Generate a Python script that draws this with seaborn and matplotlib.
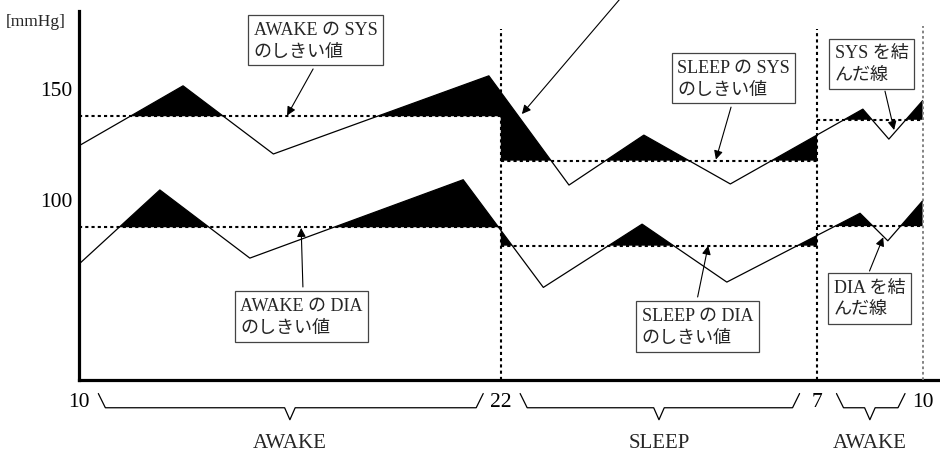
import numpy as np
import pandas as pd
import matplotlib
matplotlib.use("Agg")
import matplotlib.pyplot as plt
import seaborn as sns

# ---------------- data ----------------
sys_hours = [10, 12.96, 15.53, 21.66, 23.94, 26.07, 28.53, 32.30, 33.04, 34.0]
sys_values = [124.0, 151.0, 120.3, 155.5, 106.3, 128.8, 106.8, 140.5, 127.0, 144.3]
dia_hours = [10, 12.30, 14.86, 20.93, 23.21, 26.02, 28.43, 32.22, 33.01, 34.0]
dia_values = [70.7, 104.1, 73.4, 108.7, 60.2, 88.7, 62.6, 93.6, 81.2, 99.2]

period_edges = [10, 22, 31, 34]
period_names = ["AWAKE", "SLEEP", "AWAKE"]
sys_thresholds = [137.3, 117.3, 135.7]
dia_thresholds = [87.3, 79.0, 87.8]
x_tick_labels = ["10", "22", "7", "10"]
y_ticks = [100, 150]

# ---------------- style ----------------
sns.set_style("white")
plt.rcParams["font.family"] = ["Liberation Serif", "Noto Sans CJK JP"]

fig = plt.figure(figsize=(9.4, 4.56), dpi=100)
ax = fig.add_axes([79 / 940, 1 - 381 / 456, 1 - 79 / 940, (381 - 12) / 456])
XMIN, XMAX = 10, 10 + 861 / 35.15
YMIN, YMAX = 18.5, 184.7

df_sys = pd.DataFrame({"hour": sys_hours, "value": sys_values})
df_dia = pd.DataFrame({"hour": dia_hours, "value": dia_values})

# fills above thresholds
tt = np.linspace(10, 34, 9601)
idx = np.clip(np.searchsorted(period_edges, tt, side="right") - 1, 0, len(period_names) - 1)
for hours, vals, thr in [(sys_hours, sys_values, sys_thresholds), (dia_hours, dia_values, dia_thresholds)]:
    line = np.interp(tt, hours, vals)
    th = np.asarray(thr)[idx]
    ax.fill_between(tt, th, line, where=line > th, interpolate=True,
                    color="black", linewidth=0, zorder=2)

# lines
for d in (df_sys, df_dia):
    sns.lineplot(data=d, x="hour", y="value", ax=ax, color="black", linewidth=0.9,
                 sort=False, zorder=3, solid_joinstyle="round")

# threshold dotted lines
dot = (0, (1.5, 1.5))
for i in range(len(period_names)):
    for thr in (sys_thresholds, dia_thresholds):
        ax.hlines(thr[i], period_edges[i], period_edges[i + 1], colors="black",
                  linestyles=dot, linewidth=1.5, zorder=4)

# period separators
for e in period_edges[1:-1]:
    ax.vlines(e, YMIN, 176.6, colors="black", linestyles=dot, linewidth=1.5, zorder=4)
ax.vlines(period_edges[-1], YMIN, 178.0, colors="#7a7a7a", linestyles=dot,
          linewidth=1.3, zorder=4)

# axes
ax.set_xlim(XMIN, XMAX)
ax.set_ylim(YMIN, YMAX)
ax.set_xlabel("")
ax.set_ylabel("")
for s in ("top", "right"):
    ax.spines[s].set_visible(False)
for s in ("left", "bottom"):
    ax.spines[s].set_linewidth(2.3)
    ax.spines[s].set_color("black")
ax.set_yticks(y_ticks)
ax.set_yticklabels([str(v) for v in y_ticks], fontsize=15.5)
ax.tick_params(axis="y", direction="in", length=9.5, width=2.2, pad=5, colors="black")
ax.set_xticks(period_edges)
ax.set_xticklabels(x_tick_labels, fontsize=15.5)
ax.tick_params(axis="x", length=0, pad=9, colors="black")
ax.set_facecolor("white")

fig.text(36 / 940, 1 - 22 / 456, "[mmHg]", fontsize=12.5, ha="center", va="center")

# braces and period names
for i, name in enumerate(period_names):
    a, b = period_edges[i], period_edges[i + 1]
    mid = (a + b) / 2
    x0, x1 = a + 0.55, b - 0.5
    xs = [x0, x0 + 0.2, mid - 0.15, mid, mid + 0.15, x1 - 0.2, x1]
    ys = [12.4, 6.0, 6.0, 0.6, 6.0, 6.0, 12.4]
    ax.plot(xs, ys, color="black", linewidth=0.9, clip_on=False)
    ax.text(mid, -9.5, name, ha="center", va="center", fontsize=15)

# annotation boxes with arrows
boxes = [
    ("AWAKE の SYS\nのしきい値", (16.73, 171.6), (16.66, 158.6), (15.92, 137.6)),
    ("SLEEP の SYS\nのしきい値", (28.62, 154.5), (28.55, 141.4), (28.12, 117.8)),
    ("SYS を結\nんだ線", (32.55, 160.8), (32.93, 148.6), (33.19, 131.1)),
    ("AWAKE の DIA\nのしきい値", (16.33, 47.1), (16.37, 60.4), (16.32, 87.0)),
    ("SLEEP の DIA\nのしきい値", (27.60, 42.6), (27.60, 55.9), (27.90, 79.0)),
    ("DIA を結\nんだ線", (32.49, 55.2), (32.49, 67.6), (32.88, 82.8)),
]
for text, center, start, tip in boxes:
    ax.annotate("", xy=tip, xytext=start,
                arrowprops=dict(arrowstyle="-|>", color="black", lw=0.8,
                                mutation_scale=13, shrinkA=0, shrinkB=0), zorder=5)
    ax.text(center[0], center[1], text, ha="center", va="center", multialignment="left",
            fontsize=13, linespacing=1.42, zorder=6,
            bbox=dict(boxstyle="square,pad=0.3", facecolor="white", edgecolor="#444444",
                      linewidth=0.9))

ax.annotate("", xy=(22.6, 138.3), xytext=(25.68, 195.5), annotation_clip=False,
            arrowprops=dict(arrowstyle="-|>", color="black", lw=0.8,
                            mutation_scale=13, shrinkA=0, shrinkB=0), zorder=5)

fig.savefig("out.png", dpi=100, facecolor="white")
